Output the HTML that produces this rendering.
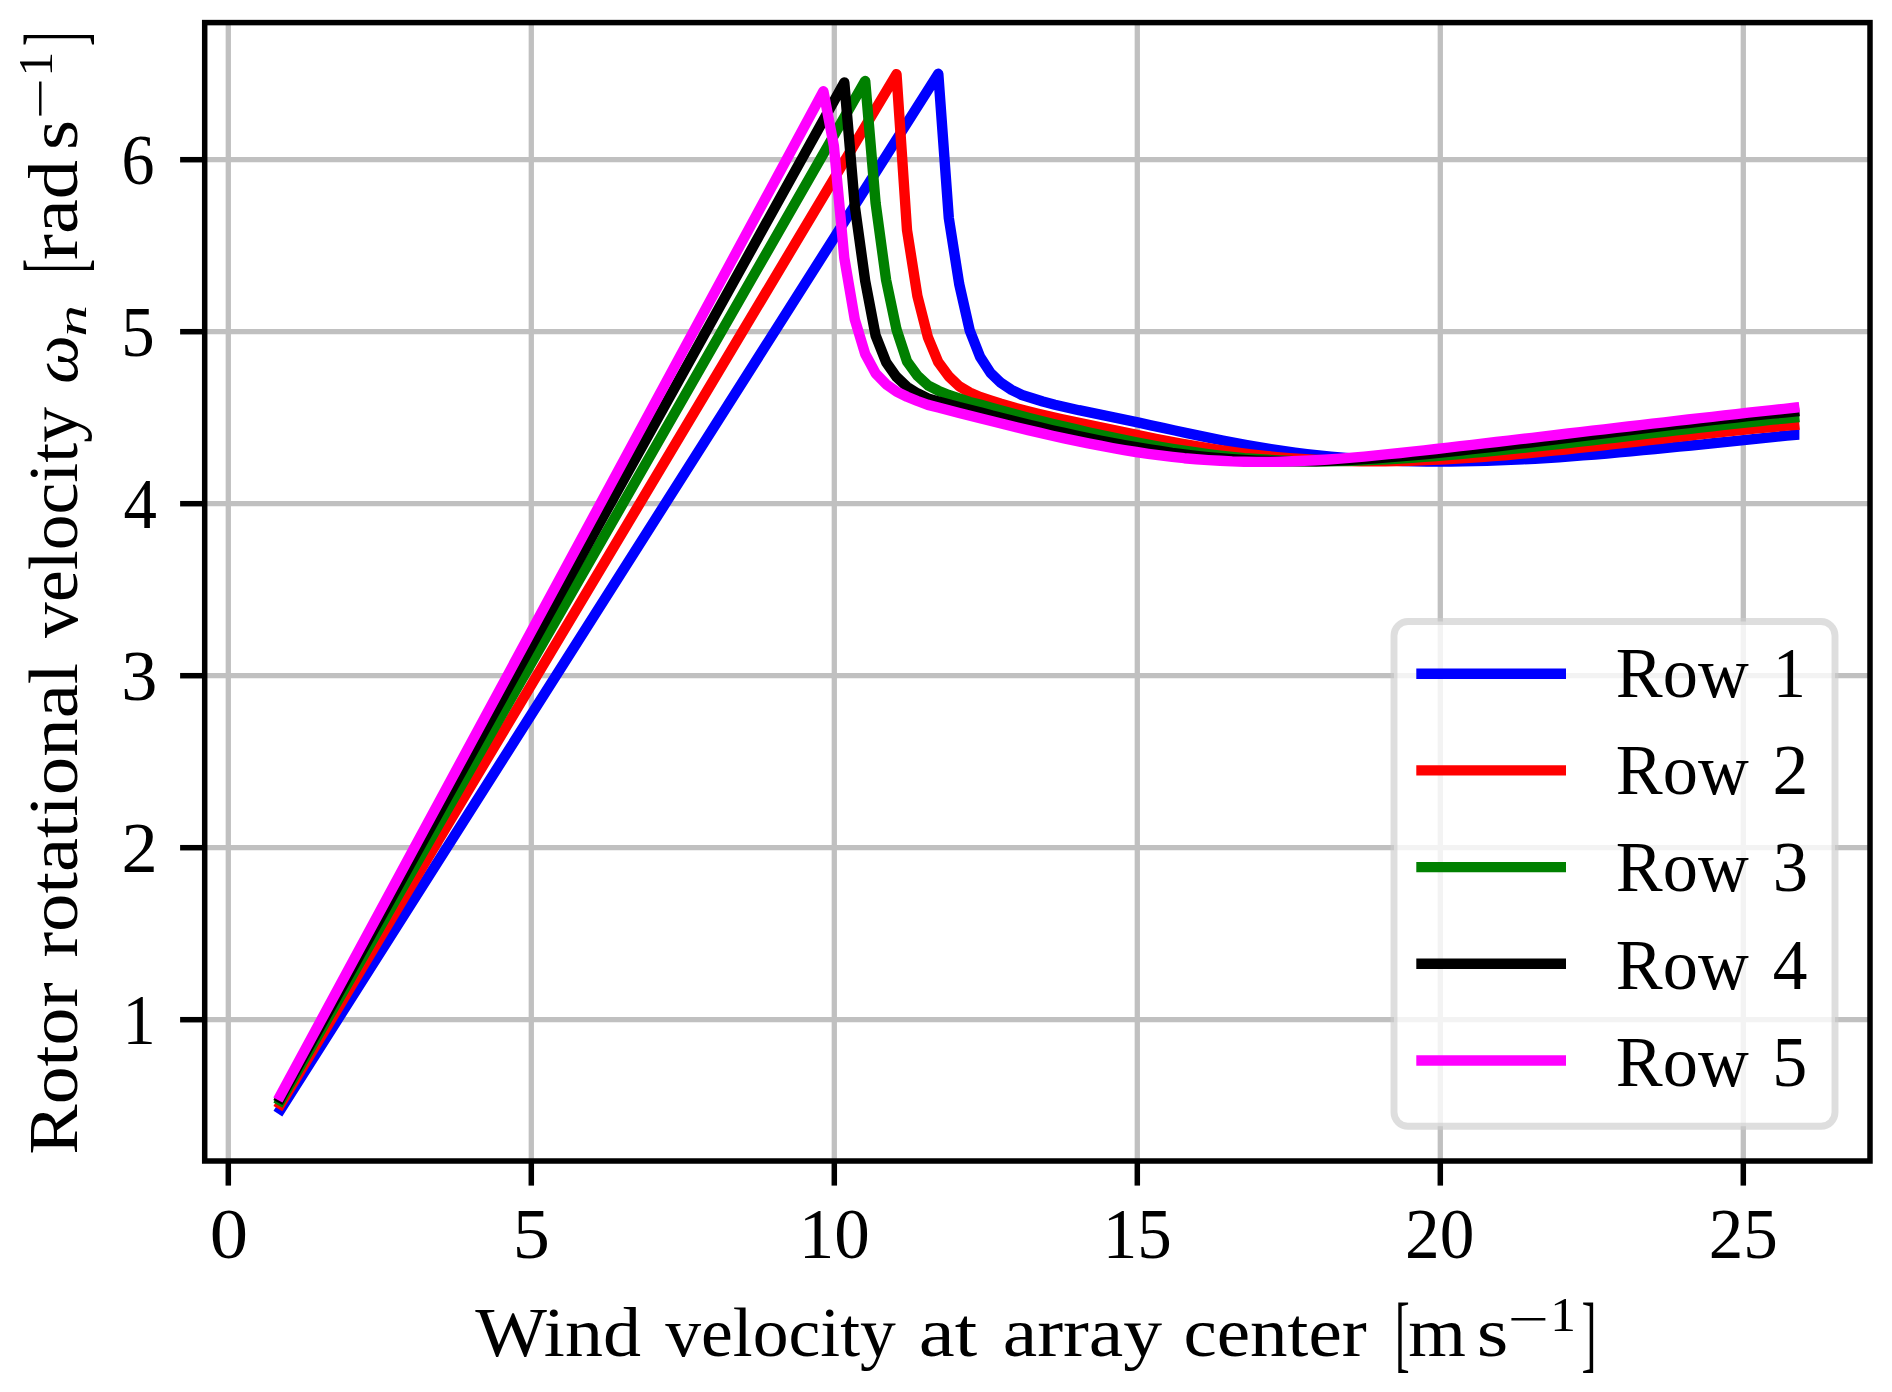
<!DOCTYPE html>
<html lang="en"><head><meta charset="utf-8"><title>Rotor rotational velocity</title>
<style>html,body{margin:0;padding:0;background:#fff;overflow:hidden}svg{display:block}text{font-family:"Liberation Serif","DejaVu Serif",serif;fill:#000}</style>
</head><body>
<svg width="1892" height="1392" viewBox="0 0 1892 1392">
<rect x="0" y="0" width="1892" height="1392" fill="#ffffff"/>
<g stroke="#c0c0c0" stroke-width="5.3" fill="none">
<line x1="228.3" y1="22.6" x2="228.3" y2="1161.0"/>
<line x1="531.3" y1="22.6" x2="531.3" y2="1161.0"/>
<line x1="834.3" y1="22.6" x2="834.3" y2="1161.0"/>
<line x1="1137.3" y1="22.6" x2="1137.3" y2="1161.0"/>
<line x1="1440.3" y1="22.6" x2="1440.3" y2="1161.0"/>
<line x1="1743.3" y1="22.6" x2="1743.3" y2="1161.0"/>
<line x1="204.7" y1="1019.7" x2="1870.0" y2="1019.7"/>
<line x1="204.7" y1="847.7" x2="1870.0" y2="847.7"/>
<line x1="204.7" y1="675.7" x2="1870.0" y2="675.7"/>
<line x1="204.7" y1="503.7" x2="1870.0" y2="503.7"/>
<line x1="204.7" y1="331.7" x2="1870.0" y2="331.7"/>
<line x1="204.7" y1="159.7" x2="1870.0" y2="159.7"/>
</g>
<g fill="none" stroke-width="10.4" stroke-linejoin="round" stroke-linecap="butt">
<polyline stroke="#0000ff" points="277.9,1113.6 938.3,73.8 948.8,218.0 959.2,284.0 969.7,330.3 980.1,356.9 990.6,373.0 1001.0,382.9 1011.5,389.8 1021.9,395.0 1032.4,398.3 1042.8,401.5 1054.9,404.7 1066.9,407.5 1078.9,410.2 1090.9,412.6 1102.9,415.1 1114.9,417.6 1126.9,420.1 1138.9,422.7 1150.9,425.3 1162.9,427.9 1174.9,430.5 1186.9,433.1 1198.9,435.6 1210.9,438.1 1222.9,440.5 1234.9,442.8 1246.9,445.0 1258.9,447.1 1270.9,449.1 1282.9,450.9 1294.9,452.6 1306.9,454.1 1318.9,455.4 1330.9,456.6 1342.9,457.7 1354.9,458.6 1366.9,459.4 1378.9,460.1 1390.9,460.6 1402.9,461.0 1414.9,461.3 1426.9,461.5 1438.9,461.5 1450.9,461.5 1462.9,461.4 1474.9,461.1 1486.9,460.8 1498.9,460.4 1510.9,459.9 1522.9,459.3 1534.9,458.7 1546.9,458.0 1558.9,457.2 1570.9,456.3 1582.9,455.4 1594.9,454.5 1606.9,453.5 1618.9,452.4 1630.9,451.4 1642.9,450.2 1654.9,449.1 1666.9,447.9 1678.9,446.7 1690.9,445.5 1702.9,444.3 1714.9,443.0 1726.9,441.8 1738.9,440.6 1750.9,439.3 1762.9,438.1 1774.9,436.9 1786.9,435.7 1798.9,434.5 1799.4,434.5"/>
<polyline stroke="#ff0000" points="277.9,1108.7 896.5,74.1 907.0,230.0 917.4,296.0 927.9,337.2 938.3,362.2 948.8,376.4 959.2,386.2 969.7,392.5 980.1,397.0 990.6,400.5 1001.0,403.8 1013.1,407.3 1025.1,410.5 1037.1,413.5 1049.1,416.3 1061.1,419.0 1073.1,421.6 1085.1,424.1 1097.1,426.7 1109.1,429.2 1121.1,431.7 1133.1,434.2 1145.1,436.6 1157.1,439.0 1169.1,441.3 1181.1,443.5 1193.1,445.7 1205.1,447.7 1217.1,449.6 1229.1,451.4 1241.1,453.1 1253.1,454.6 1265.1,455.9 1277.1,457.1 1289.1,458.1 1301.1,459.0 1313.1,459.7 1325.1,460.3 1337.1,460.7 1349.1,461.1 1361.1,461.2 1373.1,461.3 1385.1,461.2 1397.1,461.0 1409.1,460.7 1421.1,460.3 1433.1,459.9 1445.1,459.3 1457.1,458.6 1469.1,457.9 1481.1,457.0 1493.1,456.1 1505.1,455.2 1517.1,454.1 1529.1,453.0 1541.1,451.9 1553.1,450.7 1565.1,449.5 1577.1,448.2 1589.1,446.9 1601.1,445.6 1613.1,444.2 1625.1,442.9 1637.1,441.5 1649.1,440.1 1661.1,438.8 1673.1,437.4 1685.1,436.0 1697.1,434.7 1709.1,433.4 1721.1,432.0 1733.1,430.8 1745.1,429.5 1757.1,428.3 1769.1,427.2 1781.1,426.1 1793.1,425.1 1799.4,424.5"/>
<polyline stroke="#008000" points="277.9,1105.2 865.2,80.9 875.6,203.0 886.1,280.0 896.5,329.5 907.0,361.4 917.4,375.6 927.9,385.3 938.3,390.7 948.8,395.0 959.2,398.4 969.7,402.0 980.1,404.5 992.2,408.0 1004.2,411.3 1016.2,414.6 1028.2,417.7 1040.2,420.7 1052.2,423.7 1064.2,426.6 1076.2,429.4 1088.2,432.2 1100.2,434.8 1112.2,437.4 1124.2,439.9 1136.2,442.3 1148.2,444.6 1160.2,446.8 1172.2,448.8 1184.2,450.7 1196.2,452.5 1208.2,454.1 1220.2,455.6 1232.2,456.9 1244.2,458.1 1256.2,459.0 1268.2,459.8 1280.2,460.4 1292.2,460.9 1304.2,461.1 1316.2,461.3 1328.2,461.2 1340.2,461.1 1352.2,460.8 1364.2,460.4 1376.2,459.9 1388.2,459.3 1400.2,458.6 1412.2,457.8 1424.2,456.9 1436.2,456.0 1448.2,455.0 1460.2,454.0 1472.2,452.9 1484.2,451.8 1496.2,450.6 1508.2,449.4 1520.2,448.2 1532.2,446.9 1544.2,445.6 1556.2,444.3 1568.2,443.0 1580.2,441.6 1592.2,440.3 1604.2,438.9 1616.2,437.5 1628.2,436.1 1640.2,434.6 1652.2,433.2 1664.2,431.8 1676.2,430.4 1688.2,429.0 1700.2,427.6 1712.2,426.3 1724.2,424.9 1736.2,423.6 1748.2,422.3 1760.2,421.0 1772.2,419.7 1784.2,418.5 1796.2,417.3 1799.4,417.0"/>
<polyline stroke="#000000" points="277.9,1102.4 844.3,82.4 854.8,206.0 865.2,281.0 875.6,335.5 886.1,362.2 896.5,376.9 907.0,386.8 917.4,393.3 927.9,398.4 938.3,401.5 959.2,407.1 980.1,412.2 992.2,415.6 1004.2,418.6 1016.2,421.6 1028.2,424.6 1040.2,427.4 1052.2,430.2 1064.2,432.9 1076.2,435.6 1088.2,438.1 1100.2,440.5 1112.2,442.9 1124.2,445.1 1136.2,447.2 1148.2,449.2 1160.2,451.0 1172.2,452.8 1184.2,454.3 1196.2,455.8 1208.2,457.1 1220.2,458.2 1232.2,459.2 1244.2,460.0 1256.2,460.6 1268.2,461.0 1280.2,461.3 1292.2,461.4 1304.2,461.4 1316.2,461.2 1328.2,460.8 1340.2,460.3 1352.2,459.7 1364.2,459.0 1376.2,458.2 1388.2,457.3 1400.2,456.4 1412.2,455.3 1424.2,454.2 1436.2,453.0 1448.2,451.8 1460.2,450.5 1472.2,449.2 1484.2,447.9 1496.2,446.5 1508.2,445.1 1520.2,443.7 1532.2,442.3 1544.2,440.8 1556.2,439.3 1568.2,437.8 1580.2,436.3 1592.2,434.8 1604.2,433.3 1616.2,431.8 1628.2,430.3 1640.2,428.8 1652.2,427.3 1664.2,425.9 1676.2,424.4 1688.2,423.0 1700.2,421.5 1712.2,420.2 1724.2,418.8 1736.2,417.5 1748.2,416.2 1760.2,414.9 1772.2,413.7 1784.2,412.5 1796.2,411.4 1799.4,411.1"/>
<polyline stroke="#ff00ff" points="277.9,1100.0 823.4,91.3 833.9,146.0 844.3,258.0 854.8,319.5 865.2,354.1 875.6,373.3 886.1,384.2 896.5,391.6 907.0,396.7 917.4,401.0 927.9,404.9 938.3,407.5 959.2,413.1 980.1,418.3 992.2,421.2 1004.2,424.2 1016.2,427.2 1028.2,430.1 1040.2,432.9 1052.2,435.7 1064.2,438.3 1076.2,440.9 1088.2,443.4 1100.2,445.7 1112.2,448.0 1124.2,450.1 1136.2,452.0 1148.2,453.8 1160.2,455.4 1172.2,456.9 1184.2,458.2 1196.2,459.2 1208.2,460.1 1220.2,460.8 1232.2,461.4 1244.2,461.7 1256.2,461.9 1268.2,461.9 1280.2,461.7 1292.2,461.3 1304.2,460.8 1316.2,460.2 1328.2,459.5 1340.2,458.6 1352.2,457.6 1364.2,456.6 1376.2,455.4 1388.2,454.2 1400.2,453.0 1412.2,451.7 1424.2,450.3 1436.2,449.0 1448.2,447.6 1460.2,446.2 1472.2,444.8 1484.2,443.4 1496.2,442.0 1508.2,440.6 1520.2,439.2 1532.2,437.8 1544.2,436.4 1556.2,435.0 1568.2,433.5 1580.2,432.1 1592.2,430.7 1604.2,429.3 1616.2,427.9 1628.2,426.5 1640.2,425.1 1652.2,423.7 1664.2,422.3 1676.2,420.9 1688.2,419.5 1700.2,418.1 1712.2,416.8 1724.2,415.4 1736.2,414.1 1748.2,412.7 1760.2,411.4 1772.2,410.1 1784.2,408.8 1796.2,407.5 1799.4,407.1"/>
</g>
<g stroke="#000" stroke-width="5.5" fill="none">
<line x1="228.3" y1="1161.0" x2="228.3" y2="1185.6"/>
<line x1="531.3" y1="1161.0" x2="531.3" y2="1185.6"/>
<line x1="834.3" y1="1161.0" x2="834.3" y2="1185.6"/>
<line x1="1137.3" y1="1161.0" x2="1137.3" y2="1185.6"/>
<line x1="1440.3" y1="1161.0" x2="1440.3" y2="1185.6"/>
<line x1="1743.3" y1="1161.0" x2="1743.3" y2="1185.6"/>
<line x1="204.7" y1="1019.7" x2="180.1" y2="1019.7"/>
<line x1="204.7" y1="847.7" x2="180.1" y2="847.7"/>
<line x1="204.7" y1="675.7" x2="180.1" y2="675.7"/>
<line x1="204.7" y1="503.7" x2="180.1" y2="503.7"/>
<line x1="204.7" y1="331.7" x2="180.1" y2="331.7"/>
<line x1="204.7" y1="159.7" x2="180.1" y2="159.7"/>
</g>
<rect x="204.7" y="22.6" width="1665.3" height="1138.4" fill="none" stroke="#000" stroke-width="5.5" stroke-linejoin="miter"/>
<rect x="1394.0" y="621.5" width="441.0" height="504.8" rx="14" ry="14" fill="#ffffff" fill-opacity="0.8" stroke="#cccccc" stroke-opacity="0.65" stroke-width="6.9"/>
<g stroke-width="10.4" stroke-linecap="butt">
<line x1="1416.3" y1="673.7" x2="1566.0" y2="673.7" stroke="#0000ff"/>
<line x1="1416.3" y1="770.4" x2="1566.0" y2="770.4" stroke="#ff0000"/>
<line x1="1416.3" y1="867.1" x2="1566.0" y2="867.1" stroke="#008000"/>
<line x1="1416.3" y1="963.8" x2="1566.0" y2="963.8" stroke="#000000"/>
<line x1="1416.3" y1="1060.5" x2="1566.0" y2="1060.5" stroke="#ff00ff"/>
</g>
<g font-size="72px">
<text y="697.2"><tspan x="1615.8" textLength="132.9" lengthAdjust="spacingAndGlyphs">Row</tspan> <tspan x="1773.1" textLength="32.8" lengthAdjust="spacingAndGlyphs">1</tspan></text>
<text y="794.3"><tspan x="1615.8" textLength="132.9" lengthAdjust="spacingAndGlyphs">Row</tspan> <tspan x="1772.6" textLength="35.9" lengthAdjust="spacingAndGlyphs">2</tspan></text>
<text y="891.4"><tspan x="1615.8" textLength="132.9" lengthAdjust="spacingAndGlyphs">Row</tspan> <tspan x="1772.8" textLength="35.3" lengthAdjust="spacingAndGlyphs">3</tspan></text>
<text y="988.5"><tspan x="1615.8" textLength="132.9" lengthAdjust="spacingAndGlyphs">Row</tspan> <tspan x="1772.7" textLength="34.7" lengthAdjust="spacingAndGlyphs">4</tspan></text>
<text y="1085.6"><tspan x="1615.8" textLength="132.9" lengthAdjust="spacingAndGlyphs">Row</tspan> <tspan x="1772.3" textLength="35.0" lengthAdjust="spacingAndGlyphs">5</tspan></text>
</g>
<g font-size="72.5px">
<text x="209.8" y="1257.8" textLength="38.3" lengthAdjust="spacingAndGlyphs">0</text>
<text x="512.8" y="1257.8" textLength="37.1" lengthAdjust="spacingAndGlyphs">5</text>
<text x="798.8" y="1257.8" textLength="71.1" lengthAdjust="spacingAndGlyphs">10</text>
<text x="1102.8" y="1257.8" textLength="69.0" lengthAdjust="spacingAndGlyphs">15</text>
<text x="1405.1" y="1257.8" textLength="69.3" lengthAdjust="spacingAndGlyphs">20</text>
<text x="1708.8" y="1257.8" textLength="69.1" lengthAdjust="spacingAndGlyphs">25</text>
<text x="122.5" y="1043.9" textLength="33.2" lengthAdjust="spacingAndGlyphs">1</text>
<text x="121.5" y="871.9" textLength="36.2" lengthAdjust="spacingAndGlyphs">2</text>
<text x="121.3" y="699.9" textLength="36.1" lengthAdjust="spacingAndGlyphs">3</text>
<text x="123.4" y="527.9" textLength="33.4" lengthAdjust="spacingAndGlyphs">4</text>
<text x="121.3" y="355.9" textLength="33.4" lengthAdjust="spacingAndGlyphs">5</text>
<text x="121.4" y="183.9" textLength="33.0" lengthAdjust="spacingAndGlyphs">6</text>
</g>
<text y="1356.1" font-size="72px"><tspan x="475.2" font-size="70px" textLength="165.8" lengthAdjust="spacingAndGlyphs">Wind</tspan> <tspan x="665.3" font-size="70px" textLength="230.5" lengthAdjust="spacingAndGlyphs">velocity</tspan> <tspan x="918.8" font-size="70px" textLength="58.5" lengthAdjust="spacingAndGlyphs">at</tspan> <tspan x="1002.7" font-size="70px" textLength="159.4" lengthAdjust="spacingAndGlyphs">array</tspan> <tspan x="1183.4" font-size="70px" textLength="183.3" lengthAdjust="spacingAndGlyphs">center</tspan> <tspan x="1395.0" font-size="84px" textLength="14.7" lengthAdjust="spacingAndGlyphs" dy="5.8">[</tspan><tspan x="1408.3" font-size="70px" textLength="57.7" lengthAdjust="spacingAndGlyphs" dy="-5.8">m</tspan> <tspan x="1476.8" font-size="70px" textLength="31.6" lengthAdjust="spacingAndGlyphs">s</tspan><tspan x="1507.5" font-size="50px" textLength="41.2" lengthAdjust="spacingAndGlyphs" dy="-19.9">−</tspan><tspan x="1550.2" font-size="49px" textLength="25.7" lengthAdjust="spacingAndGlyphs" dy="-5.6">1</tspan><tspan x="1581.6" font-size="84px" textLength="15.0" lengthAdjust="spacingAndGlyphs" dy="31.3">]</tspan></text>
<g transform="translate(77,1152.9) rotate(-90)">
<text y="0" font-size="72px"><tspan x="-1.8" font-size="70px" textLength="172.3" lengthAdjust="spacingAndGlyphs">Rotor</tspan> <tspan x="195.4" font-size="70px" textLength="294.7" lengthAdjust="spacingAndGlyphs">rotational</tspan> <tspan x="515.0" font-size="70px" textLength="230.9" lengthAdjust="spacingAndGlyphs">velocity</tspan> <tspan x="769.1" font-size="65px" font-style="italic" textLength="48.4" lengthAdjust="spacingAndGlyphs">ω</tspan><tspan x="816.1" font-size="43px" font-style="italic" textLength="31.9" lengthAdjust="spacingAndGlyphs" dy="9.2">n</tspan> <tspan x="879.7" font-size="84px" textLength="14.4" lengthAdjust="spacingAndGlyphs" dy="-3.4">[</tspan><tspan x="892.9" font-size="70px" textLength="99.9" lengthAdjust="spacingAndGlyphs" dy="-5.8">rad</tspan> <tspan x="1003.0" font-size="70px" textLength="30.1" lengthAdjust="spacingAndGlyphs">s</tspan><tspan x="1033.4" font-size="50px" textLength="41.3" lengthAdjust="spacingAndGlyphs" dy="-19.9">−</tspan><tspan x="1076.4" font-size="49px" textLength="24.7" lengthAdjust="spacingAndGlyphs" dy="-5.6">1</tspan><tspan x="1106.8" font-size="84px" textLength="14.1" lengthAdjust="spacingAndGlyphs" dy="31.3">]</tspan></text>
</g>
</svg>
</body></html>
